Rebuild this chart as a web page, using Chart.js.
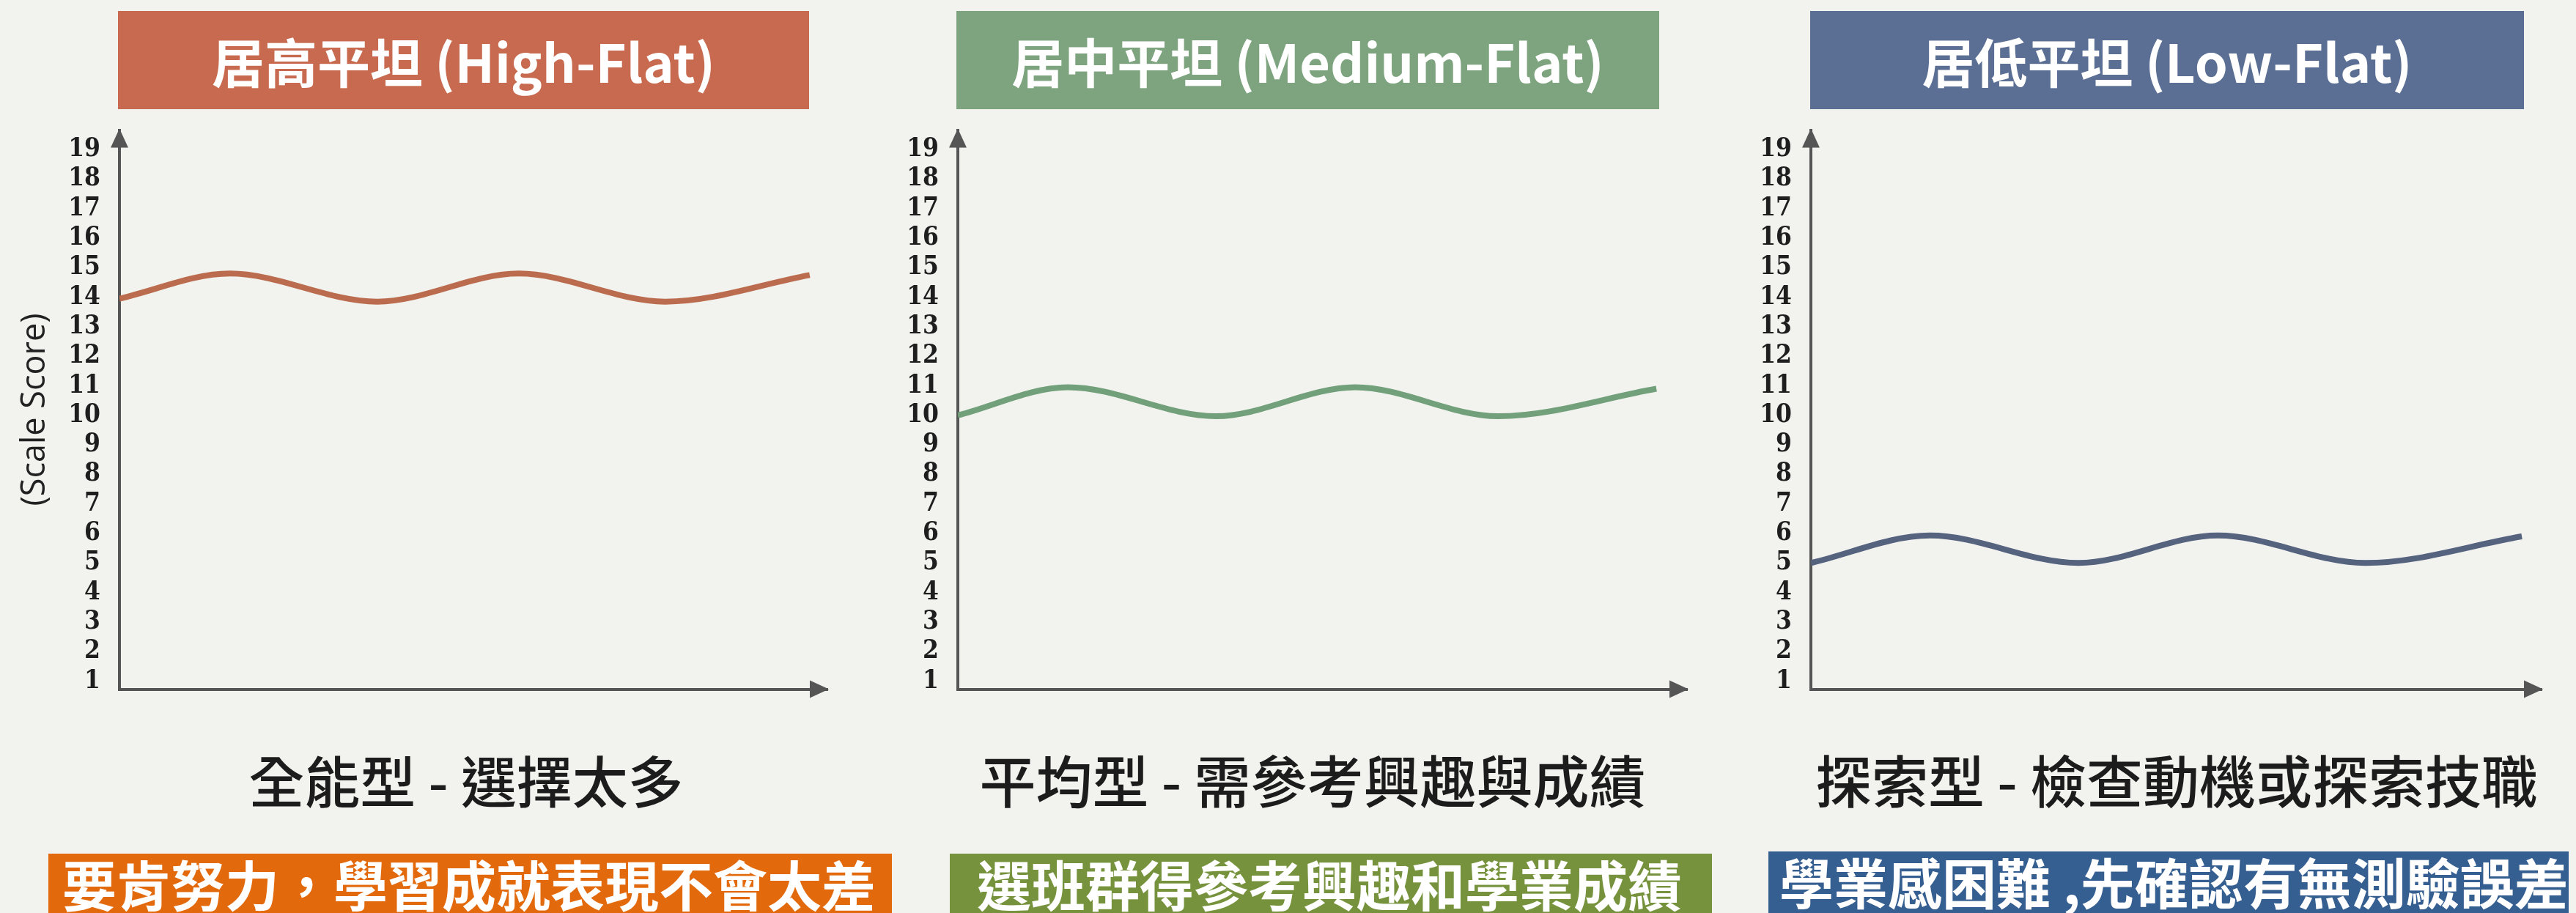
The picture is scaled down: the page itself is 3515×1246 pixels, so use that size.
<!DOCTYPE html>
<html lang="zh-Hant">
<head>
<meta charset="UTF-8">
<title>平坦型剖面</title>
<script src="https://cdn.jsdelivr.net/npm/chart.js"></script>
<style>
    body {
        margin: 0;
        width: 3515px;
        height: 1246px;
        background: #f2f2ee;
        position: relative;
        overflow: hidden;
        font-family: "Noto Sans CJK TC", "Noto Sans", sans-serif;
    }
    canvas {
        position: absolute;
        top: 134px;
    }
    .head {
        position: absolute;
        top: 15px;
        height: 134px;
        line-height: 134px;
        color: #fff;
        font-size: 72px;
        font-weight: 700;
        text-align: center;
        white-space: nowrap;
    }
    .sub {
        position: absolute;
        top: 1018px;
        height: 90px;
        line-height: 90px;
        color: #1c1c1c;
        font-size: 77px;
        font-weight: 500;
        text-align: center;
        white-space: nowrap;
    }
    .note {
        position: absolute;
        height: 84px;
        line-height: 80px;
        color: #fff;
        font-size: 74px;
        font-weight: 700;
        white-space: nowrap;
        overflow: hidden;
        box-sizing: border-box;
    }
</style>
</head>
<body>
    <div class="head" style="left:161px;width:943px;background:#c76a4f;">居高平坦 (High-Flat)</div>
    <div class="head" style="left:1305px;width:959px;background:#7ea47f;">居中平坦 (Medium-Flat)</div>
    <div class="head" style="left:2470px;width:974px;background:#5b6e93;">居低平坦 (Low-Flat)</div>

    <canvas id="chartHigh" width="1180" height="850" style="left:0px;"></canvas>
    <canvas id="chartMed" width="1140" height="850" style="left:1200px;"></canvas>
    <canvas id="chartLow" width="1120" height="850" style="left:2370px;"></canvas>

    <div class="sub" style="left:236px;width:800px;font-size:76px;">全能型 - 選擇太多</div>
    <div class="sub" style="left:1291px;width:1000px;">平均型 - 需參考興趣與成績</div>
    <div class="sub" style="left:2420px;width:1100px;">探索型 - 檢查動機或探索技職</div>

    <div class="note" style="left:66px;top:1165px;width:1151px;padding-left:19px;background:#e36a0c;">要肯努力，學習成就表現不會太差</div>
    <div class="note" style="left:1296px;top:1165px;width:1040px;padding-left:37px;background:#76923c;">選班群得參考興趣和學業成績</div>
    <div class="note" style="left:2413px;top:1162px;width:1092px;padding-left:15px;background:#365f91;">學業感困難 ,先確認有無測驗誤差</div>
<script>
    // y axis tick labels (Scale Score)
    const yTicks = [1, 2, 3, 4, 5, 6, 7, 8, 9, 10, 11, 12, 13, 14, 15, 16, 17, 18, 19];

    // wave key points (x in axis units 0..10)
    const highX = [0, 1.56, 3.64, 5.64, 7.71, 9.75];
    const highY = [13.95, 14.8, 13.85, 14.8, 13.85, 14.75];

    const medX = [0, 1.51, 3.54, 5.45, 7.41, 9.58];
    const medY = [10.0, 10.95, 9.97, 10.95, 9.97, 10.9];

    const lowX = [0, 1.63, 3.66, 5.57, 7.59, 9.73];
    const lowY = [5.0, 5.93, 5.0, 5.93, 5.0, 5.9];

    const axisColor = '#555555';

    // arrow heads on the ends of both axes
    const arrowPlugin = {
        id: 'arrows',
        afterDraw(chart) {
            const a = chart.chartArea;
            const ctx = chart.ctx;
            ctx.save();
            ctx.fillStyle = axisColor;
            ctx.beginPath();
            ctx.moveTo(a.left, a.top - 2);
            ctx.lineTo(a.left - 12, a.top + 24);
            ctx.lineTo(a.left + 12, a.top + 24);
            ctx.closePath();
            ctx.fill();
            ctx.beginPath();
            ctx.moveTo(a.right + 2, a.bottom);
            ctx.lineTo(a.right - 24, a.bottom - 12);
            ctx.lineTo(a.right - 24, a.bottom + 12);
            ctx.closePath();
            ctx.fill();
            ctx.restore();
        }
    };

    function makeChart(id, xs, ys, color, axisWidth, padRight, showTitle) {
        const ctx = document.getElementById(id).getContext('2d');
        return new Chart(ctx, {
            type: 'line',
            data: {
                datasets: [{
                    data: xs.map((x, i) => ({x: x, y: ys[i]})),
                    borderColor: color,
                    borderWidth: 8,
                    pointRadius: 0,
                    fill: false,
                    cubicInterpolationMode: 'monotone'
                }]
            },
            options: {
                responsive: false,
                animation: false,
                // y tick labels already reserve 43px above and below the plot
                layout: {padding: {top: 0, bottom: 0, right: padRight, left: 0}},
                plugins: {legend: {display: false}, tooltip: {enabled: false}},
                scales: {
                    x: {
                        type: 'linear',
                        min: 0,
                        max: 10,
                        grid: {display: false, drawTicks: false},
                        ticks: {display: false},
                        border: {display: true, color: axisColor, width: 4},
                        afterFit: axis => { axis.height = 0; }
                    },
                    y: {
                        type: 'linear',
                        min: 0.727,
                        max: 19.66,
                        grid: {display: false, drawTicks: false},
                        border: {display: true, color: axisColor, width: 4},
                        afterBuildTicks: axis => { axis.ticks = yTicks.map(v => ({value: v})); },
                        afterFit: axis => { axis.width = axisWidth; },
                        ticks: {
                            autoSkip: false,
                            padding: 26,
                            color: '#1e1e1e',
                            font: {family: '"DejaVu Serif Condensed", "DejaVu Serif", serif', size: 35, weight: 'bold', lineHeight: 1}
                        },
                        title: {
                            display: showTitle,
                            text: '(Scale Score)',
                            color: '#222222',
                            padding: {top: 21, bottom: 0},
                            font: {family: '"Open Sans", sans-serif', size: 45, lineHeight: 1.2}
                        }
                    }
                }
            },
            plugins: [arrowPlugin]
        });
    }

    makeChart('chartHigh', highX, highY, '#bb6c4e', 163, 51, true);
    makeChart('chartMed', medX, medY, '#72a07a', 107, 38, false);
    makeChart('chartLow', lowX, lowY, '#56637f', 101, 22, false);
</script>
</body>
</html>
